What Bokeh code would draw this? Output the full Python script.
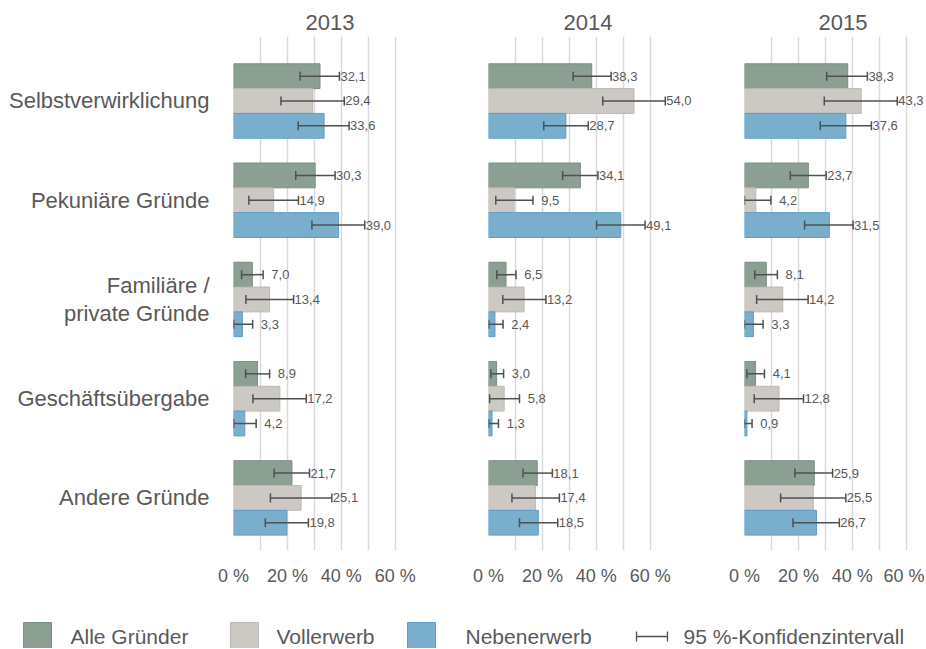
from bokeh.plotting import figure
from bokeh.layouts import row, column
from bokeh.models import (ColumnDataSource, Range1d, FixedTicker, Whisker, TeeHead,
                          LabelSet, Title)
from bokeh.core.properties import value
from bokeh.embed import file_html
from bokeh.resources import INLINE

categories = ["Selbstverwirklichung", "Pekuniäre Gründe", "Familiäre /\nprivate Gründe",
              "Geschäftsübergabe", "Andere Gründe"]
years = ["2013", "2014", "2015"]
series = ["Alle Gründer", "Vollerwerb", "Nebenerwerb"]
ci_label = "95 %-Konfidenzintervall"
x_ticks = [0, 20, 40, 60]
grid_ticks = [0, 10, 20, 30, 40, 50, 60]

# values (%) per year: Alle Gründer, Vollerwerb, Nebenerwerb
alle_2013 = [32.1, 30.3, 7.0, 8.9, 21.7]
voll_2013 = [29.4, 14.9, 13.4, 17.2, 25.1]
neben_2013 = [33.6, 39.0, 3.3, 4.2, 19.8]
alle_2014 = [38.3, 34.1, 6.5, 3.0, 18.1]
voll_2014 = [54.0, 9.5, 13.2, 5.8, 17.4]
neben_2014 = [28.7, 49.1, 2.4, 1.3, 18.5]
alle_2015 = [38.3, 23.7, 8.1, 4.1, 25.9]
voll_2015 = [43.3, 4.2, 14.2, 12.8, 25.5]
neben_2015 = [37.6, 31.5, 3.3, 0.9, 26.7]

# 95 % confidence intervals (lower, upper)
alle_lo_2013 = [24.7, 23.1, 3.0, 4.5, 15.1]
alle_hi_2013 = [39.3, 37.7, 11.0, 13.4, 28.2]
voll_lo_2013 = [17.6, 5.7, 4.6, 7.2, 13.7]
voll_hi_2013 = [41.1, 24.1, 22.3, 27.0, 36.5]
neben_lo_2013 = [24.0, 29.1, 0.1, 0.1, 11.8]
neben_hi_2013 = [42.9, 48.7, 7.1, 8.4, 27.8]

alle_lo_2014 = [31.4, 27.5, 3.1, 0.9, 12.8]
alle_hi_2014 = [45.5, 40.6, 10.2, 5.6, 23.7]
voll_lo_2014 = [42.4, 2.7, 5.3, 0.4, 8.7]
voll_hi_2014 = [65.6, 16.5, 21.3, 11.5, 26.3]
neben_lo_2014 = [20.5, 40.1, 0.1, 0.1, 11.5]
neben_hi_2014 = [37.0, 58.1, 5.4, 3.7, 25.7]

alle_lo_2015 = [30.5, 17.0, 3.8, 0.9, 18.7]
alle_hi_2015 = [45.6, 30.3, 12.2, 7.4, 32.7]
voll_lo_2015 = [29.6, 0.0, 4.5, 3.6, 13.4]
voll_hi_2015 = [56.7, 9.8, 23.6, 21.9, 37.6]
neben_lo_2015 = [28.1, 22.3, 0.0, 0.0, 18.0]
neben_hi_2015 = [47.1, 40.3, 6.9, 2.8, 35.2]

data = {
    "2013": [(alle_2013, alle_lo_2013, alle_hi_2013),
             (voll_2013, voll_lo_2013, voll_hi_2013),
             (neben_2013, neben_lo_2013, neben_hi_2013)],
    "2014": [(alle_2014, alle_lo_2014, alle_hi_2014),
             (voll_2014, voll_lo_2014, voll_hi_2014),
             (neben_2014, neben_lo_2014, neben_hi_2014)],
    "2015": [(alle_2015, alle_lo_2015, alle_hi_2015),
             (voll_2015, voll_lo_2015, voll_hi_2015),
             (neben_2015, neben_lo_2015, neben_hi_2015)],
}

FILL = ["#8c9f93", "#ccc8c3", "#7aaecd"]
LINE = ["#7b8f83", "#bcb8b2", "#5f9dc3"]
TXT = "#595959"
FONT = "Liberation Sans"
PX_PER_PCT = 2.695
BAR_H = 0.25
OFFS = [-0.25, 0.0, 0.25]

# layout per panel: (min_border_left, frame width, title offset)
panel_layout = {"2013": (233, 200, 72), "2014": (55, 212, 75), "2015": (44, 180, 74)}
FRAME_H = 514
B_TOP = 36
B_BOT = 42


def fmt(v):
    s = f"{v:.1f}".replace(".", ",")
    return s.rjust(4, "\u2007")


figs = []
for k, yr in enumerate(years):
    bl, fw, toff = panel_layout[yr]
    p = figure(width=bl + fw, height=B_TOP + FRAME_H + B_BOT,
               x_range=Range1d(0, fw / PX_PER_PCT), y_range=Range1d(4.53, -0.65),
               output_backend="svg", toolbar_location=None,
               min_border_left=bl, min_border_right=0, min_border_top=B_TOP,
               min_border_bottom=B_BOT)
    p.outline_line_color = None
    p.background_fill_color = "white"
    p.border_fill_color = "white"
    spacer = Title(text=" ", text_font_size="4px", standoff=0)
    p.add_layout(spacer, "above")
    t = Title(text=yr, align="left", offset=toff, text_font_size="22px",
              text_font=FONT, text_font_style="normal", text_color=TXT,
              standoff=0)
    p.add_layout(t, "above")

    # grid
    p.xgrid.ticker = FixedTicker(ticks=grid_ticks)
    p.xgrid.grid_line_color = "#d9d9d9"
    p.xgrid.grid_line_width = 1.5
    p.ygrid.grid_line_color = None

    # x axis
    p.xaxis.ticker = FixedTicker(ticks=x_ticks)
    p.xaxis.major_label_overrides = {v: f"{v} %" for v in x_ticks}
    p.xaxis.axis_line_color = None
    p.xaxis.major_tick_line_color = None
    p.xaxis.minor_tick_line_color = None
    p.xaxis.major_label_text_font_size = "18px"
    p.xaxis.major_label_text_font = FONT
    p.xaxis.major_label_text_color = TXT
    p.xaxis.major_label_standoff = 9

    if k == 0:
        p.yaxis.ticker = FixedTicker(ticks=list(range(len(categories))))
        p.yaxis.major_label_overrides = {i: c for i, c in enumerate(categories)}
        p.yaxis.axis_line_color = None
        p.yaxis.major_tick_line_color = None
        p.yaxis.minor_tick_line_color = None
        p.yaxis.major_label_text_font_size = "22px"
        p.yaxis.major_label_text_font = FONT
        p.yaxis.major_label_text_color = TXT
        p.yaxis.major_label_text_line_height = 1.1
        p.yaxis.major_label_standoff = 18
    else:
        p.yaxis.visible = False

    for s, (vals, lo, hi) in enumerate(data[yr]):
        ys = [i + OFFS[s] for i in range(len(categories))]
        src = ColumnDataSource(dict(y=ys, v=vals, lo=lo, hi=hi,
                                    lab=[fmt(v) for v in vals]))
        p.hbar(y="y", left=0, right="v", height=BAR_H, source=src,
               fill_color=FILL[s], line_color=LINE[s], line_width=1)
        w = Whisker(base="y", lower="lo", upper="hi", dimension="width", source=src,
                    line_color="#505050", line_width=1.5, level="overlay",
                    lower_head=TeeHead(size=9, line_color="#505050", line_width=1.5),
                    upper_head=TeeHead(size=9, line_color="#505050", line_width=1.5))
        p.add_layout(w)
        ls = LabelSet(x="hi", y="y", text="lab", x_offset=1, source=src,
                      text_baseline="middle", text_align="left",
                      text_font_size="13px", text_font=value(FONT), text_color=TXT)
        p.add_layout(ls)
    figs.append(p)

# legend strip
LW = sum(panel_layout[y][0] + panel_layout[y][1] for y in years)
LH = 56
lg = figure(width=LW, height=LH, x_range=Range1d(0, LW), y_range=Range1d(LH, 0),
            output_backend="svg", toolbar_location=None,
            min_border=0, min_border_left=0, min_border_right=0,
            min_border_top=0, min_border_bottom=0)
lg.axis.visible = False
lg.grid.visible = False
lg.outline_line_color = None
sq_x = [23, 230, 407]
tx_x = [70, 276, 465]
ly = 44
for s in range(3):
    lg.rect(x=[sq_x[s] + 14], y=[ly], width=28, height=28, fill_color=FILL[s],
            line_color=LINE[s])
    lg.text(x=[tx_x[s]], y=[ly], text=[series[s]], text_baseline="middle",
            text_font=value(FONT), text_font_size="21px", text_color=TXT)
lg.segment(x0=[636], y0=[ly], x1=[667], y1=[ly], line_color="#505050", line_width=1.3)
lg.segment(x0=[636, 667], y0=[ly - 5, ly - 5], x1=[636, 667], y1=[ly + 5, ly + 5],
           line_color="#505050", line_width=1.3)
lg.text(x=[683], y=[ly], text=[ci_label], text_baseline="middle",
        text_font=value(FONT), text_font_size="21px", text_color=TXT)

layout = column(row(*figs, spacing=0), lg, spacing=0)
open("out.html", "w").write(file_html(layout, INLINE))
